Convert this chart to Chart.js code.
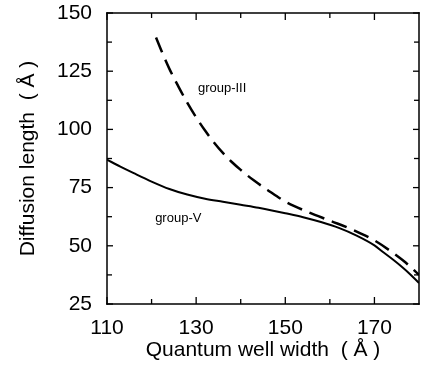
<!DOCTYPE html>
<html>
<head>
<meta charset="utf-8">
<script src="https://cdn.jsdelivr.net/npm/chart.js@4/dist/chart.umd.min.js"></script>
<style>
  html, body { margin: 0; padding: 0; background: #fff; overflow: hidden; }
  #wrap { position: relative; width: 421px; height: 371px; }
  canvas { display: block; }
</style>
</head>
<body>
<div id="wrap"><canvas id="chart" width="421" height="371"></canvas></div>
<script>
// group-V (solid line)
const widthV = [110, 113, 116, 120, 124, 128, 132, 136, 140, 144, 147, 150, 154, 158, 162, 166, 170, 172, 174, 176, 178, 180];
const lengthV = [87, 84, 81.2, 77.6, 74.4, 72.0, 70.2, 68.9, 67.6, 66.3, 65.2, 64.0, 62.3, 60.2, 57.7, 54.4, 50.2, 47.2, 44.3, 41.2, 37.8, 34.0];

// group-III (dashed line)
const widthIII = [121, 122.5, 124, 126, 128, 130, 132, 134, 136, 138, 140, 143, 146, 150, 155, 160, 165, 170, 174, 177, 180];
const lengthIII = [139.5, 132.5, 126, 118.5, 111.5, 105.2, 99.5, 94.4, 89.9, 86, 82.6, 78, 74, 69.0, 64.6, 60.8, 57, 52.3, 47.2, 42.8, 37.5];

const xTicks = [110, 130, 150, 170];
const xMinorTicks = [120, 140, 160];
const yTicks = [25, 50, 75, 100, 125, 150];
const yMinorTicks = [37.5, 62.5, 87.5, 112.5, 137.5];

const xTitle = 'Quantum well width  ( Å )';
const yTitle = 'Diffusion length  ( Å )';

// in-plot curve labels: text + where they sit (data coords)
const curveLabels = [
  { text: 'group-III', x: 130.4, y: 117.4 },
  { text: 'group-V', x: 120.8, y: 61.9 }
];

const toPoints = (xs, ys) => xs.map((v, i) => ({ x: v, y: ys[i] }));
const fontFamily = '"Liberation Sans", Arial, sans-serif';

// axis titles, curve labels, box with inward ticks on all four sides
const frameTicks = {
  id: 'frameTicks',
  afterDraw(chart) {
    const { ctx, chartArea: a, scales: { x, y } } = chart;
    ctx.save();
    ctx.fillStyle = '#000';
    ctx.textBaseline = 'middle';

    ctx.font = '13px ' + fontFamily;
    ctx.textAlign = 'left';
    curveLabels.forEach(l => {
      ctx.fillText(l.text, x.getPixelForValue(l.x), y.getPixelForValue(l.y));
    });

    ctx.font = '21px ' + fontFamily;
    ctx.textAlign = 'center';
    ctx.fillText(xTitle, (a.left + a.right) / 2, 350);
    ctx.save();
    ctx.translate(28, (a.top + a.bottom) / 2);
    ctx.rotate(-Math.PI / 2);
    ctx.fillText(yTitle, 0, 0);
    ctx.restore();

    const bw = 1.5;
    const w = a.right - a.left, h = a.bottom - a.top;
    ctx.fillRect(a.left - bw / 2, a.top - bw / 2, w + bw, bw);
    ctx.fillRect(a.left - bw / 2, a.bottom - bw / 2, w + bw, bw);
    ctx.fillRect(a.left - bw / 2, a.top - bw / 2, bw, h + bw);
    ctx.fillRect(a.right - bw / 2, a.top - bw / 2, bw, h + bw);

    const tw = 1.3;
    const xMark = (v, len) => {
      const px = x.getPixelForValue(v);
      ctx.fillRect(px - tw / 2, a.bottom - len, tw, len);
      ctx.fillRect(px - tw / 2, a.top, tw, len);
    };
    const yMark = (v, len) => {
      const py = y.getPixelForValue(v);
      ctx.fillRect(a.left, py - tw / 2, len, tw);
      ctx.fillRect(a.right - len, py - tw / 2, len, tw);
    };
    xTicks.forEach(v => xMark(v, 7));
    xMinorTicks.forEach(v => xMark(v, 5));
    yTicks.forEach(v => yMark(v, 6));
    yMinorTicks.forEach(v => yMark(v, 5));
    ctx.restore();
  }
};

const font = { family: fontFamily, size: 21 };

new Chart(document.getElementById('chart').getContext('2d'), {
  type: 'line',
  data: {
    datasets: [
      {
        label: 'group-V',
        data: toPoints(widthV, lengthV),
        borderColor: '#000',
        borderWidth: 2,
        pointRadius: 0,
        cubicInterpolationMode: 'monotone',
        fill: false
      },
      {
        label: 'group-III',
        data: toPoints(widthIII, lengthIII),
        borderColor: '#000',
        borderWidth: 2.5,
        borderDash: [16, 8],
        pointRadius: 0,
        cubicInterpolationMode: 'monotone',
        fill: false
      }
    ]
  },
  options: {
    responsive: false,
    animation: false,
    layout: { padding: { top: 0, right: 2, left: 0, bottom: 0 } },
    plugins: {
      legend: { display: false },
      tooltip: { enabled: false }
    },
    scales: {
      x: {
        type: 'linear',
        min: 110,
        max: 180,
        afterBuildTicks: s => { s.ticks = xTicks.map(v => ({ value: v })); },
        afterFit: s => { s.height = 67; },
        grid: { display: false, drawTicks: false },
        border: { display: false },
        ticks: { color: '#000', font: font, padding: 12, maxRotation: 0, autoSkip: false }
      },
      y: {
        type: 'linear',
        min: 25,
        max: 150,
        afterBuildTicks: s => { s.ticks = yTicks.map(v => ({ value: v })); },
        afterFit: s => { s.width = 107; s.paddingTop = 13; },
        grid: { display: false, drawTicks: false },
        border: { display: false },
        ticks: { color: '#000', font: font, padding: 15, autoSkip: false }
      }
    }
  },
  plugins: [frameTicks]
});
</script>
</body>
</html>
